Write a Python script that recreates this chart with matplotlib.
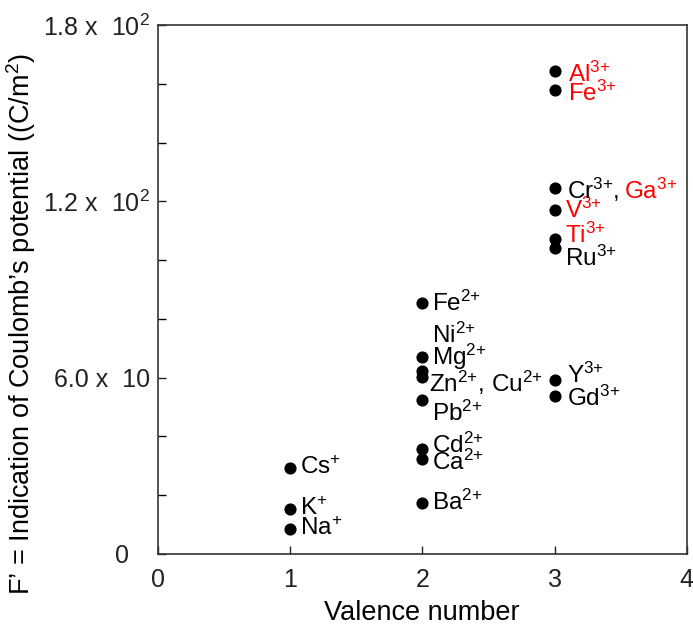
import numpy as np
import matplotlib
matplotlib.use("Agg")
import matplotlib.pyplot as plt

plt.rcParams['font.family'] = ['Liberation Sans', 'DejaVu Sans']
plt.rcParams['mathtext.fontset'] = 'custom'
plt.rcParams['mathtext.rm'] = 'Liberation Sans'
plt.rcParams['mathtext.it'] = 'Liberation Sans:italic'
plt.rcParams['mathtext.bf'] = 'Liberation Sans:bold'

# data
ions = ['Na', 'K', 'Cs',
        'Ba', 'Ca', 'Cd', 'Pb', 'Cu', 'Zn', 'Mg', 'Fe2',
        'Gd', 'Y', 'Ru', 'Ti', 'V', 'Cr', 'Fe3', 'Al']
valence = [1, 1, 1,
           2, 2, 2, 2, 2, 2, 2, 2,
           3, 3, 3, 3, 3, 3, 3, 3]
potential = [8.6, 15.4, 29.3,
             17.4, 32.2, 35.6, 52.5, 60.3, 62.4, 67.1, 85.4,
             53.9, 59.3, 104.1, 107.1, 116.9, 124.7, 158.0, 164.4]

# label text for each dot (Ni has no separate dot, Cu shares the Zn label)
label_text = {
    'Na': 'Na$^{{+}}$', 'K': 'K$^{{+}}$', 'Cs': 'Cs$^{{+}}$',
    'Ba': 'Ba$^{2{+}}$', 'Ca': 'Ca$^{2{+}}$', 'Cd': 'Cd$^{2{+}}$',
    'Pb': 'Pb$^{2{+}}$', 'Zn': 'Zn$^{2{+}}$, Cu$^{2{+}}$', 'Mg': 'Mg$^{2{+}}$',
    'Fe2': 'Fe$^{2{+}}$', 'Gd': 'Gd$^{3{+}}$', 'Y': 'Y$^{3{+}}$',
    'Ru': 'Ru$^{3{+}}$', 'Ti': 'Ti$^{3{+}}$', 'V': 'V$^{3{+}}$',
    'Cr': 'Cr$^{3{+}}$,', 'Fe3': 'Fe$^{3{+}}$', 'Al': 'Al$^{3{+}}$',
}
red_ions = ['Al', 'Fe3', 'Ti', 'V']

y_ticks = [0, 60, 120, 180]
y_ticklabels = ['0   ', '6.0 x  10', '1.2 x  10$^{2}$', '1.8 x  10$^{2}$']
x_ticks = [0, 1, 2, 3, 4]

# offsets of labels from their dots, in pixels (x, y)
offsets = {
    'Pb': (10, -14), 'Zn': (7, -12), 'Cd': (10, 4), 'Ca': (10, -3),
    'Ti': (10, 4), 'Ru': (10, -10), 'Y': (12, 4), 'Gd': (12, -3),
    'Al': (13, -3), 'Fe3': (13, -4), 'Cr': (12, -2),
}

fig = plt.figure(figsize=(6.93, 6.28), dpi=100)
ax = fig.add_axes([0.228, 0.118, 0.763, 0.842])

ax.scatter(valence, potential, s=60, color='black', zorder=3)

fs = 17.5
for name, xv, yv in zip(ions, valence, potential):
    if name not in label_text:
        continue
    dx, dy = offsets.get(name, (10, 0))
    col = 'red' if name in red_ions else 'black'
    t = ax.annotate(label_text[name], (xv, yv), xytext=(dx, dy),
                    textcoords='offset pixels', ha='left', va='center',
                    fontsize=fs, color=col)
    if name == 'Cr':
        ax.annotate('Ga$^{3{+}}$', xy=(1, 0), xycoords=t, xytext=(5, 0),
                    textcoords='offset pixels', ha='left',
                    va='bottom', fontsize=fs, color='red')
    if name == 'Mg':
        ax.annotate('Ni$^{2{+}}$', (xv, yv), xytext=(dx, 21),
                    textcoords='offset pixels', ha='left', va='center',
                    fontsize=fs, color='black')

ax.set_xlim(0, 4)
ax.set_ylim(0, 180)
ax.set_xticks(x_ticks)
ax.set_xticklabels([str(v) for v in x_ticks])
ax.set_yticks(y_ticks)
ax.set_yticklabels(y_ticklabels)
ax.set_yticks(np.arange(0, 181, 20), minor=True)
ax.tick_params(axis='both', direction='in', length=6, width=1, labelsize=18,
               colors='#222222')
ax.tick_params(axis='x', pad=10)
ax.tick_params(axis='y', pad=6)
ax.tick_params(axis='y', which='minor', direction='in', length=6, width=1)
for sp in ax.spines.values():
    sp.set_linewidth(1.2)
    sp.set_color('#333333')

fig.text(422 / 693, 1 - 613 / 628, 'Valence number', ha='center',
         va='center', fontsize=19.5)
fig.text(0.03, 0.484, 'F’ = Indication of Coulomb’s potential ((C/m$^{2}$)',
         rotation=90, ha='center', va='center', fontsize=19.5)

fig.savefig('out.png', dpi=100)
